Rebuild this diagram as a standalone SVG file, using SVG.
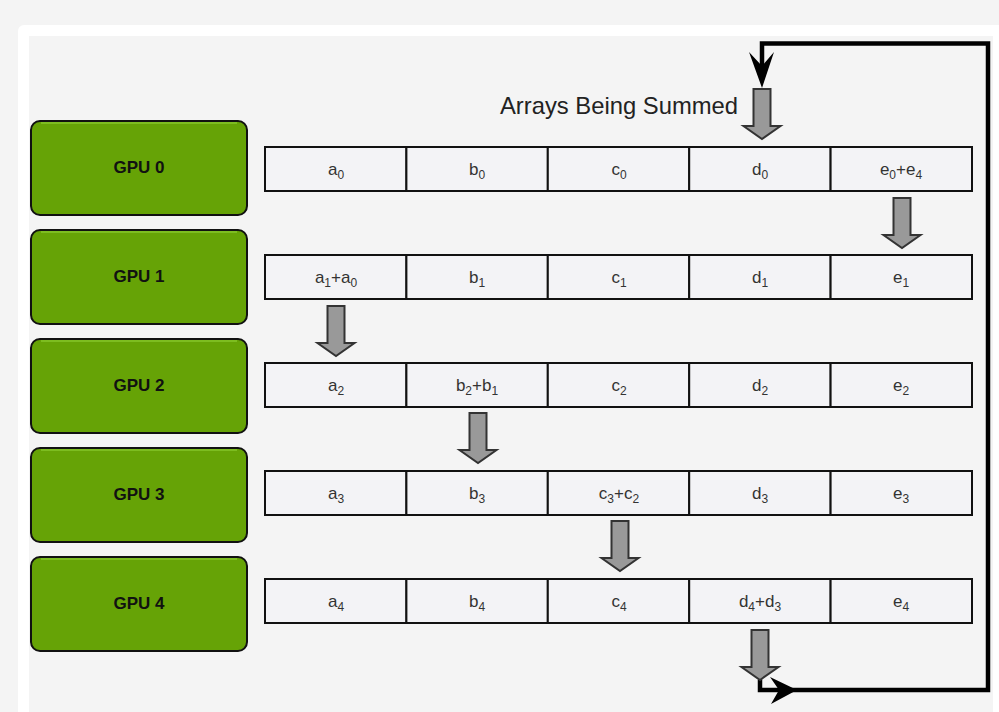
<svg xmlns="http://www.w3.org/2000/svg" width="999" height="712" viewBox="0 0 999 712">
<defs>
<style>
.gpu rect.b{fill:#66a306;stroke:#111;stroke-width:2}
.gpu path.h{fill:none;stroke:#86c62a;stroke-width:1.5}
.gpu text{font-family:"Liberation Sans",Arial,sans-serif;font-weight:bold;font-size:17px;fill:#111;text-anchor:middle}
.cell rect{fill:#f3f3f6;stroke:#111;stroke-width:2}
.cell text{font-family:"Liberation Sans",Arial,sans-serif;font-size:17px;fill:#333;text-anchor:middle}
.sub{font-size:12px}
.blk{fill:#999;stroke:#333;stroke-width:2;stroke-linejoin:miter}
.loop{fill:none;stroke:#000;stroke-width:4.5;stroke-linejoin:miter}
.head{fill:#000}
.title{font-family:"Liberation Sans",Arial,sans-serif;font-size:23.8px;fill:#222}
</style>
<path id="barrow" d="M-8.5 0 H8.5 V37 H18.5 L0 50 L-18.5 37 H-8.5 Z"/>
</defs>
<rect x="0" y="0" width="999" height="712" fill="#f4f4f4"/>
<rect x="18" y="25" width="1000" height="720" rx="6" fill="#ffffff"/>
<rect x="29" y="36" width="964" height="700" fill="#f4f4f4"/>

<text class="title" x="500" y="114">Arrays Being Summed</text>

<g id="gpu0" class="gpu"><rect class="b" x="31" y="121" width="216" height="94" rx="9"/><path class="h" d="M41 123 H237"/><text x="139" y="173">GPU 0</text></g>
<g id="gpu1" class="gpu"><rect class="b" x="31" y="230" width="216" height="94" rx="9"/><path class="h" d="M41 232 H237"/><text x="139" y="282">GPU 1</text></g>
<g id="gpu2" class="gpu"><rect class="b" x="31" y="339" width="216" height="94" rx="9"/><path class="h" d="M41 341 H237"/><text x="139" y="391">GPU 2</text></g>
<g id="gpu3" class="gpu"><rect class="b" x="31" y="448" width="216" height="94" rx="9"/><path class="h" d="M41 450 H237"/><text x="139" y="500">GPU 3</text></g>
<g id="gpu4" class="gpu"><rect class="b" x="31" y="557" width="216" height="94" rx="9"/><path class="h" d="M41 559 H237"/><text x="139" y="609">GPU 4</text></g>

<g id="row0" class="cell">
<rect x="265" y="147" width="141.4" height="44"/><rect x="406.4" y="147" width="141.4" height="44"/><rect x="547.8" y="147" width="141.4" height="44"/><rect x="689.2" y="147" width="141.4" height="44"/><rect x="830.6" y="147" width="141.4" height="44"/>
<text x="336" y="175">a<tspan class="sub" dy="4">0</tspan></text>
<text x="477" y="175">b<tspan class="sub" dy="4">0</tspan></text>
<text x="619" y="175">c<tspan class="sub" dy="4">0</tspan></text>
<text x="760" y="175">d<tspan class="sub" dy="4">0</tspan></text>
<text x="901" y="175">e<tspan class="sub" dy="4">0</tspan><tspan dy="-4">+e</tspan><tspan class="sub" dy="4">4</tspan></text>
</g>
<g id="row1" class="cell">
<rect x="265" y="255" width="141.4" height="44"/><rect x="406.4" y="255" width="141.4" height="44"/><rect x="547.8" y="255" width="141.4" height="44"/><rect x="689.2" y="255" width="141.4" height="44"/><rect x="830.6" y="255" width="141.4" height="44"/>
<text x="336" y="283">a<tspan class="sub" dy="4">1</tspan><tspan dy="-4">+a</tspan><tspan class="sub" dy="4">0</tspan></text>
<text x="477" y="283">b<tspan class="sub" dy="4">1</tspan></text>
<text x="619" y="283">c<tspan class="sub" dy="4">1</tspan></text>
<text x="760" y="283">d<tspan class="sub" dy="4">1</tspan></text>
<text x="901" y="283">e<tspan class="sub" dy="4">1</tspan></text>
</g>
<g id="row2" class="cell">
<rect x="265" y="363" width="141.4" height="44"/><rect x="406.4" y="363" width="141.4" height="44"/><rect x="547.8" y="363" width="141.4" height="44"/><rect x="689.2" y="363" width="141.4" height="44"/><rect x="830.6" y="363" width="141.4" height="44"/>
<text x="336" y="391">a<tspan class="sub" dy="4">2</tspan></text>
<text x="477" y="391">b<tspan class="sub" dy="4">2</tspan><tspan dy="-4">+b</tspan><tspan class="sub" dy="4">1</tspan></text>
<text x="619" y="391">c<tspan class="sub" dy="4">2</tspan></text>
<text x="760" y="391">d<tspan class="sub" dy="4">2</tspan></text>
<text x="901" y="391">e<tspan class="sub" dy="4">2</tspan></text>
</g>
<g id="row3" class="cell">
<rect x="265" y="471" width="141.4" height="44"/><rect x="406.4" y="471" width="141.4" height="44"/><rect x="547.8" y="471" width="141.4" height="44"/><rect x="689.2" y="471" width="141.4" height="44"/><rect x="830.6" y="471" width="141.4" height="44"/>
<text x="336" y="499">a<tspan class="sub" dy="4">3</tspan></text>
<text x="477" y="499">b<tspan class="sub" dy="4">3</tspan></text>
<text x="619" y="499">c<tspan class="sub" dy="4">3</tspan><tspan dy="-4">+c</tspan><tspan class="sub" dy="4">2</tspan></text>
<text x="760" y="499">d<tspan class="sub" dy="4">3</tspan></text>
<text x="901" y="499">e<tspan class="sub" dy="4">3</tspan></text>
</g>
<g id="row4" class="cell">
<rect x="265" y="579" width="141.4" height="44"/><rect x="406.4" y="579" width="141.4" height="44"/><rect x="547.8" y="579" width="141.4" height="44"/><rect x="689.2" y="579" width="141.4" height="44"/><rect x="830.6" y="579" width="141.4" height="44"/>
<text x="336" y="607">a<tspan class="sub" dy="4">4</tspan></text>
<text x="477" y="607">b<tspan class="sub" dy="4">4</tspan></text>
<text x="619" y="607">c<tspan class="sub" dy="4">4</tspan></text>
<text x="760" y="607">d<tspan class="sub" dy="4">4</tspan><tspan dy="-4">+d</tspan><tspan class="sub" dy="4">3</tspan></text>
<text x="901" y="607">e<tspan class="sub" dy="4">4</tspan></text>
</g>

<g id="connectors">
<path class="loop" d="M760 680 V690 H988 V43.5 H762 V70"/>
<polygon class="head" points="762,88 774,52 762,66 749,52"/>
<polygon class="head" points="797,690 770,677 779,690 771,704"/>
<use href="#barrow" class="blk" x="762" y="89"/>
<use href="#barrow" class="blk" x="902" y="198"/>
<use href="#barrow" class="blk" x="336" y="306"/>
<use href="#barrow" class="blk" x="478" y="413"/>
<use href="#barrow" class="blk" x="620" y="521"/>
<use href="#barrow" class="blk" x="760" y="630"/>
</g>
</svg>
